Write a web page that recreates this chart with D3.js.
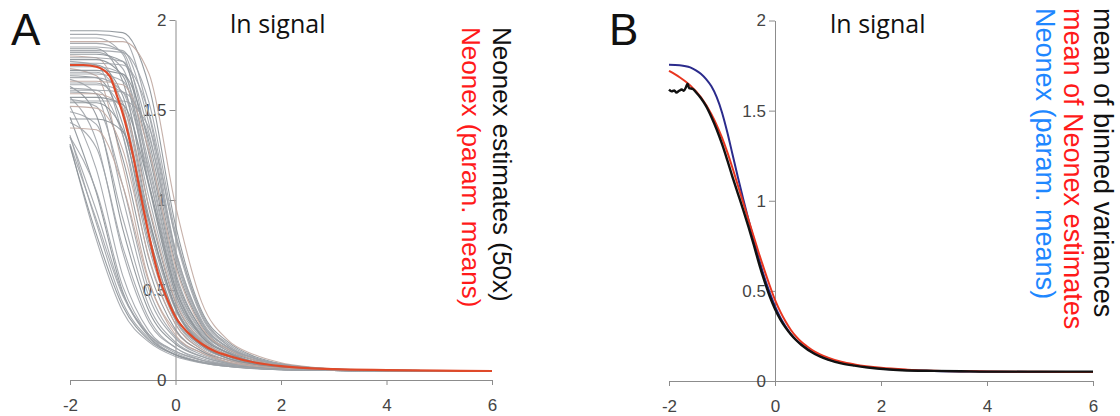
<!DOCTYPE html>
<html>
<head>
<meta charset="utf-8">
<script src="https://cdn.jsdelivr.net/npm/d3@7"></script>
<style>
  body { margin: 0; background: #fff; }
  svg { display: block; }
  .axis path, .axis line { stroke: #8c8c8c; stroke-width: 1; }
  .axis text { font-family: "Liberation Sans", Arial, sans-serif; font-size: 17px; fill: #444; }
  .title { font-family: "Open Sans", sans-serif; font-size: 25px; fill: #111; }
  .letter { font-family: "Liberation Sans", Arial, sans-serif; font-size: 44px; fill: #111; }
  .legend { font-family: "Liberation Sans", Arial, sans-serif; }
</style>
</head>
<body>
<svg id="chart" width="1120" height="416"></svg>
<script>
	'use strict';

	// tick labels
	var xTicks = [-2, 0, 2, 4, 6];
	var yTicks = [0, 0.5, 1, 1.5, 2];

	// panel A: 50 Neonex estimates, sampled at these ln signal values
	var gridX = [-2, -1.5, -1, -0.5, 0, 0.5, 1, 1.5, 2, 3, 4, 6];
	var estimateCurves = [
		[1.94,1.94,1.93,1.63,0.86,0.38,0.21,0.13,0.09,0.06,0.054,0.05],
		[1.92,1.92,1.90,1.47,0.72,0.33,0.18,0.12,0.086,0.059,0.054,0.05],
		[1.90,1.90,1.81,1.14,0.51,0.25,0.15,0.10,0.078,0.059,0.054,0.05],
		[1.88,1.88,1.88,1.70,0.97,0.43,0.22,0.14,0.096,0.063,0.054,0.05],
		[1.87,1.87,1.82,1.29,0.60,0.28,0.17,0.11,0.081,0.059,0.054,0.05],
		[1.85,1.85,1.83,1.42,0.70,0.32,0.18,0.12,0.084,0.059,0.054,0.05],
		[1.84,1.84,1.66,0.95,0.43,0.22,0.14,0.095,0.073,0.057,0.052,0.05],
		[1.83,1.83,1.82,1.54,0.82,0.36,0.20,0.125,0.089,0.061,0.054,0.05],
		[1.82,1.82,1.73,1.09,0.49,0.25,0.15,0.10,0.077,0.059,0.054,0.05],
		[1.81,1.81,1.77,1.25,0.58,0.28,0.16,0.11,0.08,0.059,0.054,0.05],
		[1.80,1.79,1.51,0.80,0.36,0.20,0.12,0.089,0.071,0.057,0.052,0.05],
		[1.79,1.79,1.77,1.37,0.68,0.31,0.18,0.11,0.083,0.059,0.053,0.05],
		[1.78,1.78,1.69,1.07,0.48,0.24,0.15,0.10,0.076,0.059,0.053,0.05],
		[1.77,1.75,1.36,0.67,0.31,0.17,0.11,0.083,0.069,0.055,0.052,0.05],
		[1.76,1.76,1.75,1.48,0.79,0.35,0.19,0.12,0.088,0.06,0.053,0.05],
		[1.75,1.75,1.58,0.90,0.41,0.21,0.13,0.093,0.072,0.057,0.052,0.05],
		[1.74,1.74,1.70,1.20,0.56,0.27,0.16,0.10,0.079,0.058,0.053,0.05],
		[1.73,1.69,1.19,0.55,0.27,0.16,0.10,0.079,0.065,0.055,0.052,0.05],
		[1.72,1.72,1.70,1.32,0.65,0.30,0.17,0.11,0.082,0.058,0.053,0.05],
		[1.71,1.71,1.54,0.88,0.40,0.21,0.13,0.092,0.072,0.057,0.052,0.05],
		[1.70,1.70,1.66,1.17,0.55,0.26,0.15,0.10,0.078,0.058,0.053,0.05],
		[1.69,1.68,1.42,0.76,0.34,0.19,0.12,0.086,0.07,0.057,0.052,0.05],
		[1.68,1.68,1.60,1.01,0.46,0.23,0.14,0.096,0.074,0.058,0.053,0.05],
		[1.67,1.59,1.01,0.46,0.23,0.14,0.095,0.074,0.063,0.055,0.052,0.05],
		[1.66,1.66,1.64,1.27,0.63,0.29,0.17,0.11,0.081,0.058,0.053,0.05],
		[1.65,1.65,1.49,0.85,0.39,0.20,0.13,0.09,0.071,0.056,0.052,0.05],
		[1.64,1.64,1.60,1.13,0.53,0.25,0.15,0.10,0.077,0.058,0.053,0.05],
		[1.63,1.47,0.84,0.38,0.20,0.13,0.09,0.071,0.061,0.053,0.05,0.05],
		[1.62,1.61,1.36,0.73,0.33,0.18,0.12,0.085,0.069,0.056,0.052,0.05],
		[1.61,1.61,1.60,1.35,0.72,0.32,0.18,0.12,0.084,0.059,0.053,0.05],
		[1.60,1.59,1.23,0.61,0.28,0.16,0.11,0.079,0.067,0.055,0.052,0.05],
		[1.59,1.59,1.51,0.96,0.44,0.22,0.14,0.093,0.073,0.058,0.053,0.05],
		[1.57,1.33,0.71,0.32,0.18,0.11,0.084,0.068,0.059,0.053,0.05,0.05],
		[1.57,1.57,1.53,1.08,0.51,0.24,0.15,0.099,0.076,0.058,0.053,0.05],
		[1.56,1.52,1.08,0.50,0.24,0.15,0.098,0.076,0.064,0.055,0.052,0.05],
		[1.55,1.55,1.55,1.40,0.80,0.37,0.19,0.12,0.088,0.061,0.053,0.05],
		[1.54,1.54,1.39,0.80,0.36,0.19,0.12,0.087,0.069,0.056,0.052,0.05],
		[1.52,1.17,0.58,0.27,0.16,0.11,0.078,0.066,0.057,0.053,0.05,0.05],
		[1.52,1.51,1.28,0.68,0.31,0.17,0.11,0.082,0.068,0.056,0.051,0.05],
		[1.46,1.04,0.49,0.24,0.14,0.096,0.075,0.063,0.057,0.053,0.05,0.05],
		[1.49,1.42,0.90,0.41,0.21,0.13,0.09,0.072,0.062,0.054,0.051,0.05],
		[1.36,0.87,0.43,0.23,0.14,0.10,0.078,0.066,0.058,0.053,0.05,0.05],
		[1.45,1.45,1.38,0.88,0.40,0.20,0.13,0.089,0.071,0.057,0.053,0.05],
		[1.43,1.29,0.74,0.34,0.18,0.12,0.085,0.068,0.06,0.053,0.05,0.05],
		[1.31,0.78,0.38,0.21,0.13,0.095,0.075,0.065,0.057,0.053,0.05,0.05],
		[1.40,1.39,1.08,0.54,0.25,0.15,0.10,0.076,0.065,0.054,0.051,0.05],
		[1.31,0.89,0.47,0.25,0.16,0.11,0.086,0.071,0.059,0.055,0.051,0.05],
		[1.35,1.05,0.52,0.25,0.14,0.098,0.075,0.064,0.057,0.053,0.05,0.05],
		[1.30,0.81,0.41,0.22,0.14,0.10,0.079,0.067,0.06,0.054,0.051,0.05],
		[1.35,0.94,0.48,0.25,0.15,0.10,0.08,0.066,0.059,0.053,0.051,0.05]
	];

	// panel A: Neonex with parameter means
	var paramMeanA = [
		[-2,1.75],[-1.75,1.75],[-1.5,1.74],[-1.25,1.69],[-1.1,1.57],[-1,1.48],[-0.9,1.37],
		[-0.8,1.24],[-0.7,1.09],[-0.6,0.94],[-0.5,0.80],[-0.4,0.67],[-0.3,0.56],[-0.2,0.48],
		[-0.1,0.41],[0,0.35],[0.25,0.26],[0.5,0.20],[0.75,0.16],[1,0.135],[1.5,0.097],
		[2,0.077],[2.5,0.066],[3,0.06],[4,0.055],[5,0.052],[6,0.05]
	];

	// panel B
	var neonexParamB = [
		[-2,1.755],[-1.8,1.752],[-1.6,1.74],[-1.5,1.725],[-1.4,1.705],[-1.3,1.675],[-1.2,1.635],
		[-1.1,1.575],[-1,1.49],[-0.9,1.38],[-0.8,1.255],[-0.7,1.13],[-0.6,1.01],[-0.5,0.895],
		[-0.4,0.785],[-0.3,0.675],[-0.2,0.575],[-0.1,0.49],[0,0.415],[0.1,0.352],[0.2,0.302],
		[0.3,0.26],[0.4,0.228],[0.5,0.202],[0.75,0.153],[1,0.12],[1.5,0.088],[2,0.07],
		[2.5,0.061],[3,0.056],[4,0.052],[5,0.05],[6,0.05]
	];
	var neonexMeanB = [
		[-2,1.72],[-1.8,1.685],[-1.6,1.64],[-1.4,1.575],[-1.2,1.48],[-1.1,1.42],[-1,1.35],
		[-0.9,1.27],[-0.8,1.18],[-0.7,1.085],[-0.6,0.99],[-0.5,0.895],[-0.4,0.8],[-0.3,0.705],
		[-0.2,0.615],[-0.1,0.53],[0,0.45],[0.1,0.385],[0.2,0.33],[0.3,0.283],[0.4,0.246],
		[0.5,0.216],[0.6,0.193],[0.75,0.163],[1,0.13],[1.25,0.107],[1.5,0.092],[2,0.073],
		[2.5,0.063],[3,0.057],[4,0.053],[5,0.051],[6,0.05]
	];
	var binnedVarB = [
		[-2,1.617],[-1.95,1.607],[-1.9,1.612],[-1.86,1.60],[-1.81,1.61],[-1.76,1.617],[-1.72,1.61],
		[-1.68,1.63],[-1.65,1.65],[-1.62,1.625],[-1.55,1.62],[-1.5,1.605],[-1.4,1.57],[-1.3,1.525],
		[-1.2,1.465],[-1.1,1.395],[-1,1.315],[-0.9,1.225],[-0.8,1.13],[-0.7,1.04],[-0.6,0.95],
		[-0.5,0.855],[-0.4,0.755],[-0.3,0.65],[-0.2,0.555],[-0.1,0.47],[0,0.40],[0.1,0.342],
		[0.2,0.296],[0.3,0.258],[0.4,0.226],[0.5,0.2],[0.75,0.15],[1,0.119],[1.25,0.098],
		[1.5,0.085],[1.75,0.075],[2.1,0.065],[2.4,0.06],[3,0.056],[3.5,0.054],[4,0.052],
		[5,0.052],[6,0.052]
	];

	var svg = d3.select("#chart");

	function makePanel(xRange, yRange) {
		var x = d3.scaleLinear().domain([-2, 6]).range(xRange);
		var y = d3.scaleLinear().domain([0, 2]).range(yRange);
		var g = svg.append("g");

		g.append("g")
			.attr("class", "axis")
			.attr("transform", "translate(0," + y(0) + ")")
			.call(d3.axisBottom(x).tickValues(xTicks).tickFormat(String)
				.tickSize(5).tickSizeOuter(0).tickPadding(14));

		g.append("g")
			.attr("class", "axis")
			.attr("transform", "translate(" + x(0) + ",0)")
			.call(d3.axisLeft(y).tickValues(yTicks).tickFormat(String)
				.tickSize(6).tickSizeOuter(0).tickPadding(3));

		var line = d3.line()
			.x(function (d) { return x(d[0]); })
			.y(function (d) { return y(d[1]); })
			.curve(d3.curveMonotoneX);

		return { g: g, line: line };
	}

	// ---- panel A ----
	var A = makePanel([70, 492], [380, 20]);

	A.g.selectAll("path.estimate")
		.data(estimateCurves)
		.enter()
		.append("path")
		.attr("class", "estimate")
		.attr("fill", "none")
		.attr("stroke", function (d, i) {
			if (i % 7 === 3) return "#c0a9a1";
			return i % 3 === 0 ? "#8a9096" : "#9fa3a8";
		})
		.attr("stroke-opacity", 0.9)
		.attr("stroke-width", 1.1)
		.attr("d", function (d) {
			return A.line(d.map(function (v, j) { return [gridX[j], v]; }));
		});

	A.g.append("path")
		.datum(paramMeanA)
		.attr("fill", "none")
		.attr("stroke", "#df4a2a")
		.attr("stroke-width", 2.2)
		.attr("d", A.line);

	// ---- panel B ----
	var B = makePanel([669, 1093], [381, 20.5]);

	var bSeries = [
		{ data: neonexParamB, color: "#2b2b8c", width: 2 },
		{ data: neonexMeanB, color: "#e8351f", width: 2 },
		{ data: binnedVarB, color: "#111111", width: 2.4 }
	];
	B.g.selectAll("path.series")
		.data(bSeries)
		.enter()
		.append("path")
		.attr("class", "series")
		.attr("fill", "none")
		.attr("stroke", function (d) { return d.color; })
		.attr("stroke-width", function (d) { return d.width; })
		.attr("d", function (d) { return B.line(d.data); });

	// titles and panel letters
	svg.append("text").attr("class", "letter").attr("x", 11).attr("y", 45).text("A");
	svg.append("text").attr("class", "letter").attr("x", 609).attr("y", 45).text("B");
	svg.append("text").attr("class", "title").attr("x", 230).attr("y", 33).text("ln signal");
	svg.append("text").attr("class", "title").attr("x", 830).attr("y", 33).text("ln signal");

	// vertical legends
	var legends = [
		{ text: "Neonex estimates (50x)", color: "#111", x: 493, y: 27, size: 26 },
		{ text: "Neonex (param. means)", color: "#ff1a1a", x: 462, y: 27, size: 26 },
		{ text: "mean of binned variances", color: "#111", x: 1094, y: 8, size: 27 },
		{ text: "mean of Neonex estimates", color: "#ff1a1a", x: 1064, y: 8, size: 27 },
		{ text: "Neonex (param. means)", color: "#1e87ff", x: 1036, y: 8, size: 27 }
	];
	svg.selectAll("text.legend")
		.data(legends)
		.enter()
		.append("text")
		.attr("class", "legend")
		.attr("transform", function (d) { return "translate(" + d.x + "," + d.y + ") rotate(90)"; })
		.attr("fill", function (d) { return d.color; })
		.style("font-size", function (d) { return d.size + "px"; })
		.text(function (d) { return d.text; });
</script>
</body>
</html>
